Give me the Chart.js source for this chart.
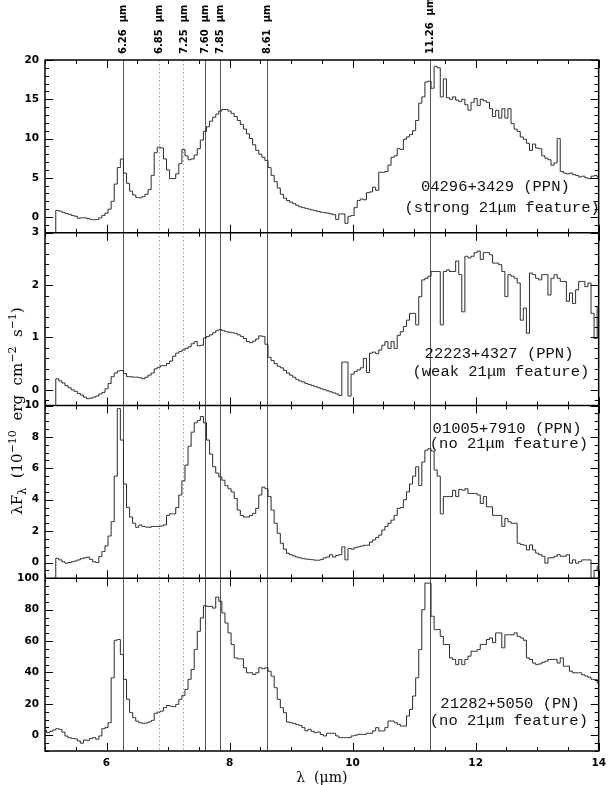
<!DOCTYPE html>
<html>
<head>
<meta charset="utf-8">
<title>PAH features in PPN and PN spectra</title>
<script src="https://cdn.jsdelivr.net/npm/chart.js@4.4.1/dist/chart.umd.min.js"></script>
<style>
  html, body { margin: 0; padding: 0; background: #fff; }
  #spectra { display: block; }
</style>
</head>
<body>
<canvas id="spectra" width="612" height="785"></canvas>
<script>
// Four stacked mid-IR spectra (lambda F_lambda) with the PAH band positions marked

// wavelength bins, micron (shared by all four spectra)
const WAVELENGTH = [
  5.00, 5.05, 5.10, 5.15, 5.20, 5.25, 5.30, 5.35, 5.40, 5.45, 5.50, 5.55, 5.60, 5.65, 5.70, 5.75, 5.80, 5.85, 5.90, 5.95,
  6.00, 6.05, 6.10, 6.15, 6.20, 6.25, 6.30, 6.35, 6.40, 6.45, 6.50, 6.55, 6.60, 6.65, 6.70, 6.75, 6.80, 6.85, 6.90, 6.95,
  7.00, 7.05, 7.10, 7.15, 7.20, 7.25, 7.30, 7.35, 7.40, 7.45, 7.50, 7.55, 7.60, 7.65, 7.70, 7.75, 7.80, 7.85, 7.90, 7.95,
  8.00, 8.05, 8.10, 8.15, 8.20, 8.25, 8.30, 8.35, 8.40, 8.45, 8.50, 8.55, 8.60, 8.65, 8.70, 8.75, 8.80, 8.85, 8.90, 8.95,
  9.00, 9.05, 9.10, 9.15, 9.20, 9.25, 9.30, 9.35, 9.40, 9.45, 9.50, 9.55, 9.60, 9.65, 9.70, 9.75, 9.80, 9.85, 9.90, 9.95,
  10.00, 10.05, 10.10, 10.15, 10.20, 10.25, 10.30, 10.35, 10.40, 10.45, 10.50, 10.55, 10.60, 10.65, 10.70, 10.75, 10.80, 10.85, 10.90, 10.95,
  11.00, 11.05, 11.10, 11.15, 11.20, 11.25, 11.30, 11.35, 11.40, 11.45, 11.50, 11.55, 11.60, 11.65, 11.70, 11.75, 11.80, 11.85, 11.90, 11.95,
  12.00, 12.05, 12.10, 12.15, 12.20, 12.25, 12.30, 12.35, 12.40, 12.45, 12.50, 12.55, 12.60, 12.65, 12.70, 12.75, 12.80, 12.85, 12.90, 12.95,
  13.00, 13.05, 13.10, 13.15, 13.20, 13.25, 13.30, 13.35, 13.40, 13.45, 13.50, 13.55, 13.60, 13.65, 13.70, 13.75, 13.80, 13.85, 13.90, 13.95,
  14.00
];

// 04296+3429 (PPN), strong 21um feature
const FLUX_04296 = [
  null, null, null, -2, 0.85, 0.75, 0.6, 0.45, 0.35, 0.2, 0.1, -0.15, -0.1, -0.1, -0.2, -0.3, -0.35, -0.3, -0.1, 0.2,
  0.5, 1.0, 2.0, 4.2, 6.3, 7.4, 5.6, 4.3, 3.3, 2.8, 2.5, 2.45, 2.6, 2.9, 3.5, 5.3, 8.2, 8.9, 8.8, 7.4,
  6.0, 4.9, 4.9, 5.5, 6.8, 8.6, 7.8, 7.3, 7.4, 7.9, 8.7, 9.8, 10.9, 11.5, 12.2, 12.7, 13.1, 13.5, 13.7, 13.7,
  13.5, 13.2, 12.8, 12.3, 11.8, 11.2, 10.6, 10.0, 9.2, 8.5, 8.0, 7.6, 7.2, 6.3, 5.3, 4.5, 3.7, 2.9, 2.4, 2.1,
  1.9, 1.7, 1.5, 1.3, 1.2, 1.1, 1.0, 0.9, 0.8, 0.7, 0.6, 0.55, 0.5, 0.4, 0.3, -0.3, 0.4, 0.4, -0.8, 0.1,
  0.2, 1.2, 2.1, 2.3, 2.2, 3.1, 3.2, 3.8, 3.4, 5.7, 5.7, 5.8, 6.6, 7.6, 7.8, 8.7, 8.6, 9.9, 10.2, 10.5,
  11.0, 12.3, 14.5, 15.3, 17.2, 17.3, 16.4, 19.2, 19.0, 15.3, 17.6, 15.2, 15.0, 15.3, 14.9, 14.7, 15.0, 14.3, 13.6, 14.6,
  15.1, 14.2, 15.0, 14.8, 14.6, 13.8, 12.8, 13.6, 12.6, 13.8, 12.6, 13.8, 11.9, 11.2, 10.9, 10.2, 9.9, 9.4, 8.5, 9.3,
  8.8, 8.7, 7.8, 7.5, 7.3, 6.6, 6.9, 10.0, 5.8, 5.6, 5.5, 5.6, 5.4, 5.3, 5.1, 5.2, 5.0, 4.9, 5.2, 5.3,
  5.1
];

// 22223+4327 (PPN), weak 21um feature
const FLUX_22223 = [
  null, null, null, -0.3, 0.21, 0.17, 0.13, 0.08, 0.04, 0.0, -0.03, -0.07, -0.1, -0.14, -0.17, -0.16, -0.14, -0.12, -0.08, -0.05,
  0.02, 0.12, 0.25, 0.32, 0.36, 0.37, 0.31, 0.25, 0.25, 0.24, 0.24, 0.23, 0.21, 0.24, 0.28, 0.32, 0.4, 0.43, 0.46, 0.46,
  0.5, 0.55, 0.64, 0.7, 0.73, 0.76, 0.79, 0.82, 0.88, 0.92, 0.84, 0.85, 0.99, 1.02, 1.05, 1.09, 1.13, 1.15, 1.13, 1.11,
  1.1, 1.09, 1.08, 1.05, 1.02, 0.98, 0.92, 0.9, 0.93, 0.97, 1.03, 1.02, 0.87, 0.62, 0.56, 0.5, 0.45, 0.42, 0.37, 0.32,
  0.28, 0.24, 0.2, 0.17, 0.15, 0.12, 0.1, 0.08, 0.06, 0.04, 0.02, 0.0, -0.02, -0.04, -0.06, -0.08, -0.11, 0.53, 0.53, -0.12,
  0.3, 0.35, 0.38, 0.42, 0.6, 0.33, 0.7, 0.72, 0.69, 0.76, 0.85, 0.92, 0.79, 0.92, 0.79, 1.04, 1.11, 1.21, 1.33, 1.46,
  1.46, 1.24, 1.78, 2.1, 2.13, 2.17, 2.26, 2.26, 2.26, 1.24, 2.26, 2.29, 2.26, 2.26, 2.46, 2.2, 1.49, 2.55, 2.52, 2.55,
  2.62, 2.65, 2.49, 2.62, 2.62, 2.58, 2.42, 2.42, 2.39, 2.26, 1.78, 2.2, 2.17, 2.13, 2.04, 1.33, 1.56, 1.08, 2.23, 2.2,
  2.13, 2.1, 2.2, 2.2, 1.81, 2.13, 2.2, 2.13, 2.07, 2.07, 1.69, 1.85, 1.65, 1.91, 2.07, 2.07, 1.97, 2.04, 1.46, 0.98,
  1.59
];

// 01005+7910 (PPN), no 21um feature
const FLUX_01005 = [
  null, null, null, -1, 0.27, 0.17, 0.05, -0.04, 0.0, 0.05, 0.1, 0.17, 0.25, 0.3, 0.34, 0.2, 0.05, 0.0, 0.38, 0.7,
  1.06, 1.69, 2.6, 5.5, 9.8, 7.8, 5.0, 3.5, 2.9, 2.5, 2.24, 2.39, 2.3, 2.26, 2.24, 2.3, 2.3, 2.3, 2.33, 2.4,
  3.0, 3.1, 3.1, 3.5, 4.3, 5.2, 6.2, 7.4, 8.3, 8.9, 9.05, 9.3, 8.9, 7.8, 6.9, 6.1, 5.7, 5.45, 5.24, 4.9,
  4.7, 4.5, 4.08, 3.34, 3.0, 2.9, 2.9, 3.0, 3.13, 3.45, 4.3, 4.8, 4.7, 4.2, 3.34, 2.5, 1.86, 1.23, 0.85, 0.59,
  0.49, 0.42, 0.35, 0.3, 0.25, 0.22, 0.2, 0.18, 0.15, 0.15, 0.2, 0.3, 0.35, 0.5, 0.35, 0.45, 0.5, 1.0, 0.17, 0.9,
  0.85, 0.95, 1.0, 1.05, 1.1, 1.1, 1.3, 1.44, 1.6, 1.75, 2.07, 2.3, 2.5, 2.7, 3.0, 3.45, 3.5, 4.0, 4.5, 5.0,
  5.5, 6.1, 4.9, 6.4, 7.15, 7.25, 7.1, 5.9, 5.5, 3.1, 4.2, 4.2, 4.2, 4.6, 4.2, 4.65, 4.6, 4.7, 4.4, 4.4,
  4.4, 4.3, 3.76, 4.2, 3.55, 3.55, 3.0, 3.0, 3.0, 2.3, 2.8, 2.6, 2.5, 2.5, 1.23, 1.15, 1.1, 0.8, 1.12, 0.8,
  0.6, 0.5, 0.4, -0.04, 0.3, 0.3, 0.4, 0.5, 0.4, 0.4, 0.5, -0.04, 0.17, -0.04, 0.06, 0.17, 0.17, 0.17, -1.0, -0.5,
  -0.25
];

// 21282+5050 (PN), no 21um feature
const FLUX_21282 = [
  3.0, 1.7, 2.5, 3.4, 4.2, 3.8, 2.0, -0.5, -1.5, -2.0, -2.2, -3.6, -5.0, -3.0, -3.2, -2.0, -1.5, -2.5, -0.4, 4.2,
  4.9, 8.0, 36.6, 60.5, 61.0, 51.4, 35.6, 22.9, 14.4, 11.2, 9.0, 8.0, 7.6, 7.8, 8.5, 9.5, 14.0, 14.8, 15.4, 17.6,
  19.0, 18.6, 18.2, 19.7, 22.9, 25.4, 29.2, 35.6, 41.9, 54.6, 66.2, 74.7, 82.5, 82.1, 82.1, 81.0, 88.0, 85.3, 77.9, 71.5,
  65.2, 57.8, 49.3, 48.7, 48.7, 43.0, 39.8, 39.8, 38.7, 39.8, 43.0, 42.4, 43.0, 40.8, 37.7, 30.3, 22.9, 17.6, 14.4, 8.5,
  8.0, 7.6, 6.8, 6.3, 4.9, 2.8, 3.8, 2.5, 1.7, 2.1, 0.5, -0.4, 1.3, 1.3, 1.3, -0.4, -1.5, -1.5, -1.5, -1.5,
  -0.4, 0.0, 0.6, 0.6, 0.6, 1.3, 1.3, 2.8, 4.9, 2.8, 2.8, 4.9, 9.1, 9.1, 8.0, 7.0, 5.9, 5.9, 12.3, 16.5,
  25.0, 36.6, 54.6, 80.0, 96.9, 96.9, 75.8, 67.3, 67.3, 63.0, 57.8, 57.8, 49.3, 48.3, 45.0, 48.3, 45.0, 48.3, 50.4, 53.5,
  53.5, 54.6, 57.8, 57.8, 61.0, 62.0, 59.0, 65.2, 65.2, 55.7, 64.0, 64.0, 64.0, 65.2, 63.0, 62.0, 60.5, 49.3, 48.3, 46.0,
  45.0, 45.5, 46.5, 47.2, 48.3, 48.3, 48.3, 46.0, 49.3, 44.0, 44.0, 40.8, 39.8, 39.8, 39.8, 38.5, 37.7, 37.0, 35.6, 35.6,
  33.4
];

// PAH band positions marked across all panels
const FEATURE_WAVES = [6.26, 6.85, 7.25, 7.60, 7.85, 8.61, 11.26];
const FEATURE_LABELS = ['6.26  μm', '6.85  μm', '7.25  μm', '7.60  μm', '7.85  μm', '8.61  μm', '11.26  μm'];
const FEATURE_DOTTED = [false, true, true, false, false, false, false];

// axis ranges and tick labels, top panel first
const Y_MIN = [-2, -0.3, -1, -10];
const Y_MAX = [20, 3, 10, 100];
const Y_TICKS_04296 = [0, 5, 10, 15, 20];
const Y_TICKS_22223 = [0, 1, 2, 3];
const Y_TICKS_01005 = [0, 2, 4, 6, 8, 10];
const Y_TICKS_21282 = [0, 20, 40, 60, 80, 100];
const Y_MINOR = [1, 0.2, 0.5, 5];
const X_TICKS = [6, 8, 10, 12, 14];

const NOTES = [
  ['04296+3429 (PPN)', '(strong 21μm feature)'],
  ['22223+4327 (PPN)', '(weak 21μm feature)'],
  ['01005+7910 (PPN)', '(no 21μm feature)'],
  ['21282+5050 (PN)', '(no 21μm feature)']
];
// where each note line sits, in data units of its panel
const NOTE_ANCHORS = [
  [[12.32, 3.8], [12.43, 1.2]],
  [[12.38, 0.69], [12.41, 0.34]],
  [[12.51, 8.54], [12.54, 7.53]],
  [[12.56, 19.7], [12.54, 9.1]]
];

const SPECTRA = [FLUX_04296, FLUX_22223, FLUX_01005, FLUX_21282];
const Y_TICKS = [Y_TICKS_04296, Y_TICKS_22223, Y_TICKS_01005, Y_TICKS_21282];
const PANEL_IDS = ['y0', 'y1', 'y2', 'y3'];

const TICK_FONT = { family: '"DejaVu Sans", sans-serif', size: 10.5, weight: 'bold' };
const LABEL_FONT = 'bold 10px "DejaVu Sans", sans-serif';
const NOTE_FONT = '15.5px "Liberation Mono", "Courier New", monospace';
const TITLE_FONT = '"DejaVu Serif", serif';

function drawRich(ctx, parts, cx, baseY, size) {
  const fontFor = k => (k ? Math.round(size * 0.7) : size) + 'px ' + TITLE_FONT;
  let total = 0;
  parts.forEach(([t, k]) => { ctx.font = fontFor(k); total += ctx.measureText(t).width; });
  let x = cx - total / 2;
  ctx.textAlign = 'left';
  ctx.textBaseline = 'alphabetic';
  parts.forEach(([t, k]) => {
    ctx.font = fontFor(k);
    const dy = k === 'sup' ? -size * 0.42 : (k === 'sub' ? size * 0.28 : 0);
    ctx.fillText(t, x, baseY + dy);
    x += ctx.measureText(t).width;
  });
}

const panelFrame = {
  id: 'panelFrame',
  beforeDatasetsDraw(chart) {
    const { ctx, chartArea: a } = chart;
    const xs = chart.scales.x;
    ctx.save();
    ctx.lineWidth = 1;
    FEATURE_WAVES.forEach((w, i) => {
      const px = Math.round(xs.getPixelForValue(w)) + 0.5;
      ctx.beginPath();
      if (FEATURE_DOTTED[i]) {
        ctx.strokeStyle = '#a0a0a0';
        ctx.setLineDash([1.5, 2.5]);
      } else {
        ctx.strokeStyle = '#555';
        ctx.setLineDash([]);
      }
      ctx.moveTo(px, a.top);
      ctx.lineTo(px, a.bottom);
      ctx.stroke();
    });
    ctx.restore();
  },
  afterDatasetsDraw(chart) {
    const { ctx, chartArea: a } = chart;
    const xs = chart.scales.x;
    ctx.save();

    // inward ticks on every panel edge
    ctx.strokeStyle = '#000';
    ctx.lineWidth = 1;
    ctx.beginPath();
    PANEL_IDS.forEach((id, k) => {
      const ys = chart.scales[id];
      const minor = Y_MINOR[k];
      const major = Y_TICKS[k][1] - Y_TICKS[k][0];
      for (let n = Math.ceil(ys.min / minor - 1e-6); n * minor <= ys.max + 1e-9; n++) {
        const v = n * minor;
        const py = Math.round(ys.getPixelForValue(v)) + 0.5;
        const len = Math.abs(v / major - Math.round(v / major)) < 1e-6 ? 8 : 4;
        ctx.moveTo(a.left, py); ctx.lineTo(a.left + len, py);
        ctx.moveTo(a.right, py); ctx.lineTo(a.right - len, py);
      }
      for (let n = 10; n <= 28; n++) {
        const v = n * 0.5;
        const px = Math.round(xs.getPixelForValue(v)) + 0.5;
        const len = v % 2 === 0 ? 8 : 4;
        ctx.moveTo(px, ys.top); ctx.lineTo(px, ys.top + len);
        ctx.moveTo(px, ys.bottom); ctx.lineTo(px, ys.bottom - len);
      }
    });
    ctx.stroke();

    // frame and panel dividers
    ctx.lineWidth = 1.5;
    ctx.strokeRect(a.left, a.top, a.right - a.left, a.bottom - a.top);
    ctx.beginPath();
    PANEL_IDS.slice(0, 3).forEach(id => {
      const yb = chart.scales[id].bottom;
      ctx.moveTo(a.left, yb); ctx.lineTo(a.right, yb);
    });
    ctx.stroke();

    // band labels above the top panel
    ctx.fillStyle = '#000';
    ctx.font = LABEL_FONT;
    ctx.textAlign = 'left';
    ctx.textBaseline = 'middle';
    FEATURE_WAVES.forEach((w, i) => {
      const px = xs.getPixelForValue(w);
      ctx.save();
      ctx.translate(px + 0.5, a.top - 6);
      ctx.rotate(-Math.PI / 2);
      ctx.fillText(FEATURE_LABELS[i], 0, 0);
      ctx.restore();
    });

    // object names in each panel
    ctx.font = NOTE_FONT;
    ctx.textAlign = 'center';
    ctx.textBaseline = 'middle';
    ctx.fillStyle = '#111';
    NOTES.forEach((lines, k) => {
      const ys = chart.scales[PANEL_IDS[k]];
      lines.forEach((t, j) => {
        const [nx, ny] = NOTE_ANCHORS[k][j];
        ctx.fillText(t, xs.getPixelForValue(nx), ys.getPixelForValue(ny));
      });
    });

    // axis titles
    ctx.fillStyle = '#000';
    drawRich(ctx, [['λ  (μm)', '']], (a.left + a.right) / 2, 782, 14);
    ctx.save();
    ctx.translate(22, 411);
    ctx.rotate(-Math.PI / 2);
    drawRich(ctx, [
      ['λF', ''], ['λ', 'sub'], ['  (10', ''], ['−10', 'sup'],
      ['  erg  cm', ''], ['−2', 'sup'], ['  s', ''], ['−1', 'sup'], [')', '']
    ], 0, 0, 15);
    ctx.restore();

    ctx.restore();
  }
};

const scales = {
  x: {
    type: 'linear',
    position: 'bottom',
    min: 5,
    max: 14,
    grid: { display: false, drawTicks: false },
    border: { display: false },
    ticks: { font: TICK_FONT, color: '#000', padding: 6, maxRotation: 0, autoSkip: false },
    afterBuildTicks: s => { s.ticks = X_TICKS.map(v => ({ value: v })); },
    afterFit: s => { s.height = 34; }
  }
};
PANEL_IDS.forEach((id, k) => {
  scales[id] = {
    type: 'linear',
    position: 'left',
    stack: 'panels',
    stackWeight: 1,
    weight: 4 - k,
    min: Y_MIN[k],
    max: Y_MAX[k],
    grid: { display: false, drawTicks: false },
    border: { display: false },
    ticks: { font: TICK_FONT, color: '#000', padding: 6, autoSkip: false },
    afterBuildTicks: s => { s.ticks = Y_TICKS[k].map(v => ({ value: v })); },
    afterFit: s => { s.width = 45; }
  };
});

new Chart(document.getElementById('spectra'), {
  type: 'line',
  data: {
    datasets: SPECTRA.map((flux, k) => ({
      data: WAVELENGTH.map((w, i) => ({ x: w, y: flux[i] })),
      xAxisID: 'x',
      yAxisID: PANEL_IDS[k],
      borderColor: '#2a2a2a',
      borderWidth: 1,
      stepped: 'middle',
      pointRadius: 0,
      fill: false,
      spanGaps: false
    }))
  },
  options: {
    responsive: false,
    animation: false,
    devicePixelRatio: 1,
    layout: { padding: { top: 60, right: 7, bottom: 0, left: 0 } },
    plugins: { legend: { display: false }, tooltip: { enabled: false } },
    scales: scales
  },
  plugins: [panelFrame]
});
</script>
</body>
</html>
